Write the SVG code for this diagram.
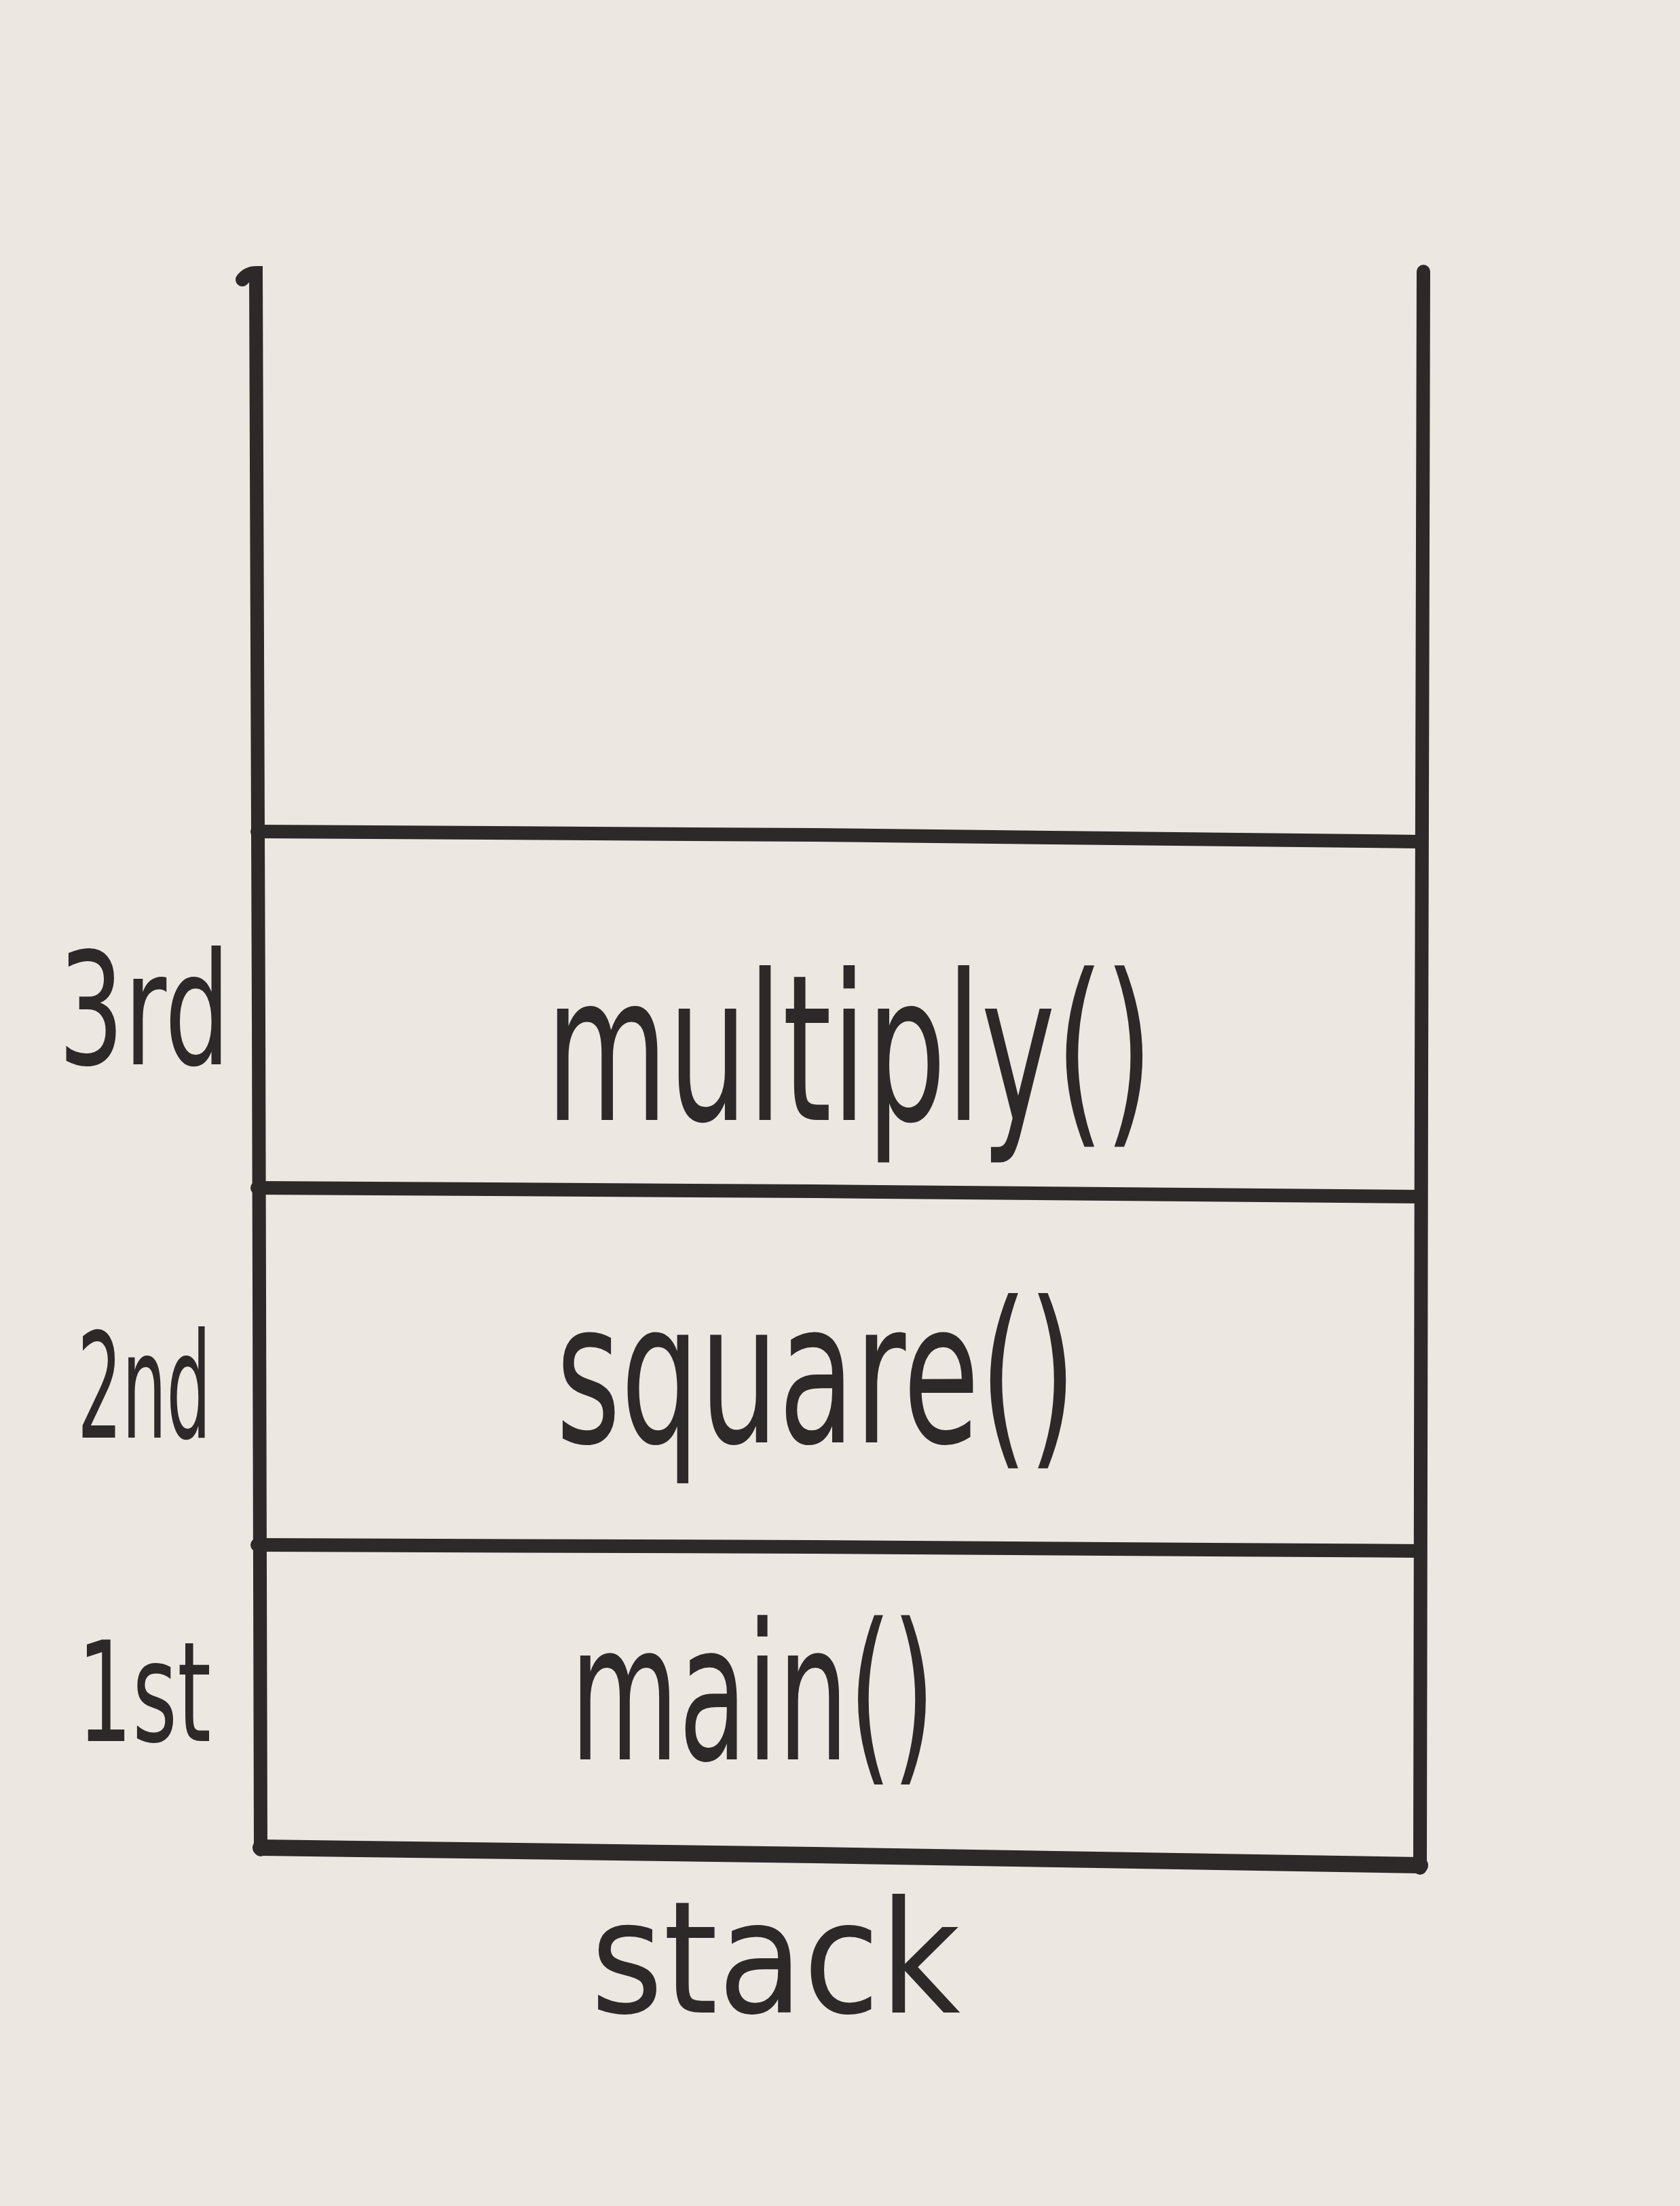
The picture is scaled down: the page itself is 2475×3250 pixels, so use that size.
<svg xmlns="http://www.w3.org/2000/svg" width="2475" height="3250" viewBox="0 0 2475 3250">
<style>
.ln{stroke:#2d2929;stroke-width:20;stroke-linecap:round;fill:none}
.hw{font-family:"DejaVu Sans","Liberation Sans",sans-serif;fill:#2d2929}
</style>
<rect x="0" y="0" width="2475" height="3250" fill="#ece7e1"/>
<g id="connectors">
<path class="ln" d="M357 412 Q365 402 377 402 L381 1500 L384 2725"/>
<path class="ln" d="M2097 400 L2094 1600 L2092 2752"/>
<path class="ln" style="stroke-width:24" d="M384 2722 L1200 2733 L2092 2748"/>
<path class="ln" d="M379 1225 L1200 1230 L2092 1240"/>
<path class="ln" d="M379 1750 L1200 1755 L2092 1763"/>
<path class="ln" d="M379 2276 L1200 2279 L2092 2285"/>
</g>
<g id="frame-multiply">
<text class="hw" x="804" y="1650" font-size="300" textLength="895" lengthAdjust="spacingAndGlyphs">multiply()</text>
</g>
<g id="label-3rd">
<text class="hw" x="86" y="1568" font-size="230" textLength="253" lengthAdjust="spacingAndGlyphs">3rd</text>
</g>
<g id="frame-square">
<text class="hw" x="819" y="2125" font-size="290" textLength="767" lengthAdjust="spacingAndGlyphs">square()</text>
</g>
<g id="label-2nd">
<text class="hw" x="114" y="2118" font-size="215" textLength="197" lengthAdjust="spacingAndGlyphs">2nd</text>
</g>
<g id="frame-main">
<text class="hw" x="840" y="2592" font-size="280" textLength="538" lengthAdjust="spacingAndGlyphs">main()</text>
</g>
<g id="label-1st">
<text class="hw" x="114" y="2565" font-size="205" textLength="197" lengthAdjust="spacingAndGlyphs">1st</text>
</g>
<g id="title">
<text class="hw" x="870" y="2965" font-size="230" textLength="545" lengthAdjust="spacingAndGlyphs">stack</text>
</g>
</svg>
